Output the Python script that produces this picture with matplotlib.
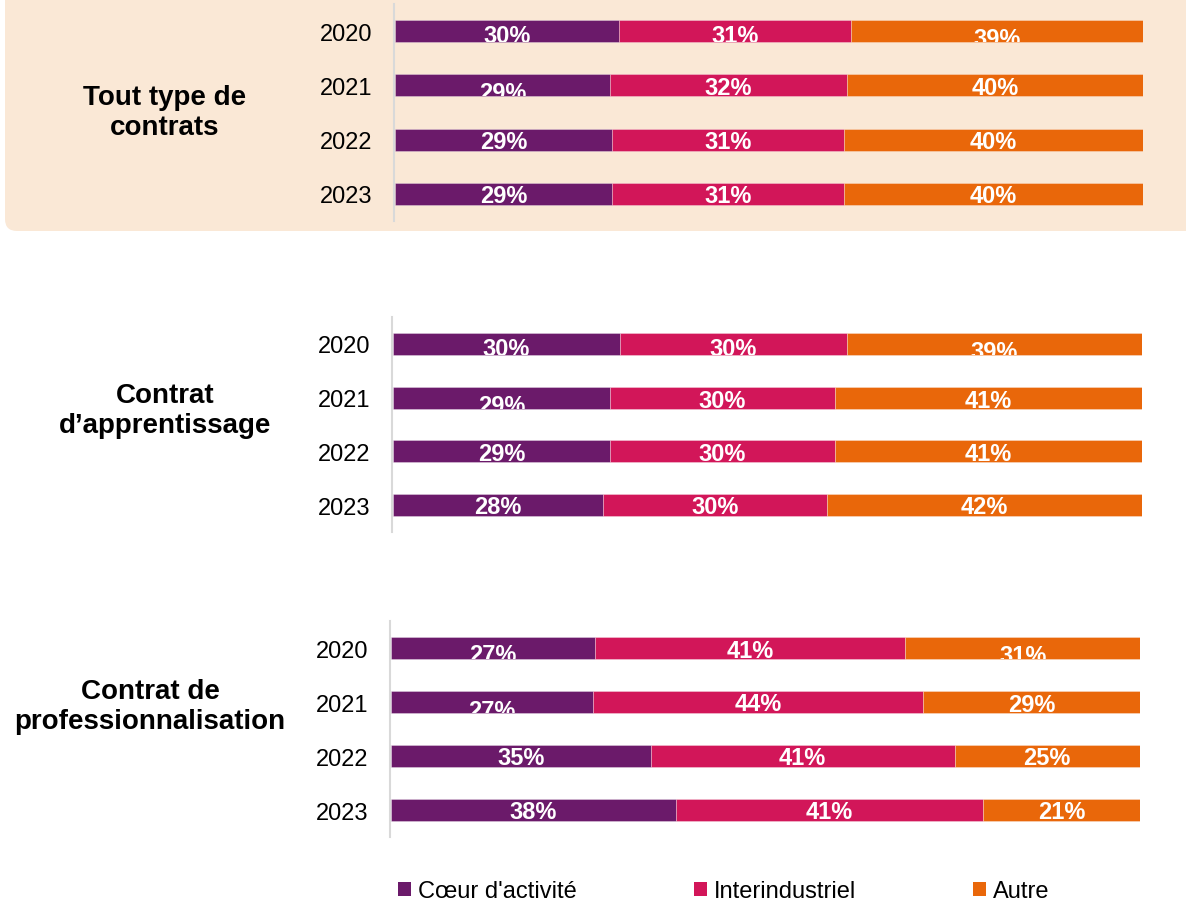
import numpy as np
import matplotlib
matplotlib.use("Agg")
import matplotlib.pyplot as plt
from matplotlib.patches import FancyBboxPatch, Patch

plt.rcParams['font.family'] = ['Liberation Sans', 'DejaVu Sans']

# --- données ---
annees = ['2020', '2021', '2022', '2023']
series = ["Cœur d'activité", 'Interindustriel', 'Autre']

tout_coeur = [30, 29, 29, 29]
tout_inter = [31, 32, 31, 31]
tout_autre = [39, 40, 40, 40]

appr_coeur = [30, 29, 29, 28]
appr_inter = [30, 30, 30, 30]
appr_autre = [39, 41, 41, 42]

pro_coeur = [27, 27, 35, 38]
pro_inter = [41, 44, 41, 41]
pro_autre = [31, 29, 25, 21]

groupes = ['Tout type de\ncontrats', 'Contrat\nd’apprentissage',
           'Contrat de\nprofessionnalisation']

couleurs = ['#6B1A6A', '#D21659', '#E9670A']

# décalage vertical des étiquettes (px vers le bas)
decalages = [
    [[3, 3, 6], [6, 1, 1], [0, 0, 0], [0, 0, 0]],
    [[3, 3, 6], [6, 1, 1], [1, 1, 1], [0, 0, 0]],
    [[5, 1, 6], [7, 0, 1], [0, 0, 0], [0, 0, 0]],
]

W, H = 1186, 903
fig = plt.figure(figsize=(W / 100, H / 100), dpi=100)
fig.patch.set_facecolor('white')

# fond beige arrondi du premier bloc
fond = FancyBboxPatch((0.05, (H - 232) / 100), 12.5, 3.0,
                      boxstyle='round,pad=0,rounding_size=0.12',
                      transform=fig.dpi_scale_trans, facecolor='#FAE8D6',
                      edgecolor='none', zorder=-1)
fig.add_artist(fond)

# (gauche, haut, droite, bas) en pixels de chaque bloc
cadres = [(395, 5, 1143, 222), (393, 318, 1142, 533), (391, 622, 1140, 838)]
textes_pos = [(165, 113), (165, 411), (150, 707)]
donnees = [(tout_coeur, tout_inter, tout_autre),
           (appr_coeur, appr_inter, appr_autre),
           (pro_coeur, pro_inter, pro_autre)]

for k, (cadre, vals) in enumerate(zip(cadres, donnees)):
    x0, y0, x1, y1 = cadre
    ax = fig.add_axes([x0 / W, 1 - y1 / H, (x1 - x0) / W, (y1 - y0) / H])
    ax.set_facecolor('none')
    v = np.array(vals, dtype=float)       # 3 x 4
    pct = v / v.sum(axis=0) * 100          # barres 100 %
    y = np.arange(len(annees))
    gauche = np.zeros(len(annees))
    for s in range(3):
        barres = ax.barh(y, pct[s], left=gauche, height=0.405,
                         color=couleurs[s], edgecolor=(1, 1, 1, 0.35),
                         linewidth=0.6)
        for i, b in enumerate(barres):
            drop = decalages[k][i][s] / 1.389
            t = ax.annotate(f'{int(v[s, i])}%',
                            (gauche[i] + pct[s, i] / 2, y[i]),
                            xytext=(0, -drop - 1), textcoords='offset points',
                            ha='center', va='center', color='white',
                            fontsize=17, fontweight='bold')
            t.set_clip_path(b)
        gauche += pct[s]
    ax.set_xlim(0, 100)
    ax.set_ylim(3.5, -0.5)
    ax.set_yticks(y)
    ax.set_yticklabels(annees)
    ax.tick_params(axis='y', length=0, pad=15, labelsize=17)
    ax.set_xticks([])
    for c in ['top', 'right', 'bottom']:
        ax.spines[c].set_visible(False)
    ax.spines['left'].set_color('#D9D9D9')
    ax.spines['left'].set_linewidth(1.5)
    ax.spines['left'].set_position(('outward', 1))

    tx, ty = textes_pos[k]
    fig.text(tx / W, 1 - ty / H, groupes[k], ha='center',
             va='center', multialignment='center', fontsize=20,
             fontweight='bold', linespacing=1.2)

poignees = [Patch(facecolor=c, edgecolor='none') for c in couleurs]
fig.legend(poignees, series, loc='center', bbox_to_anchor=(724 / W, 1 - 892 / H),
           ncol=3, frameon=False, fontsize=17, handlelength=0.55,
           handleheight=0.55, handletextpad=0.3, columnspacing=4.95)

fig.savefig('out.png', dpi=100)
